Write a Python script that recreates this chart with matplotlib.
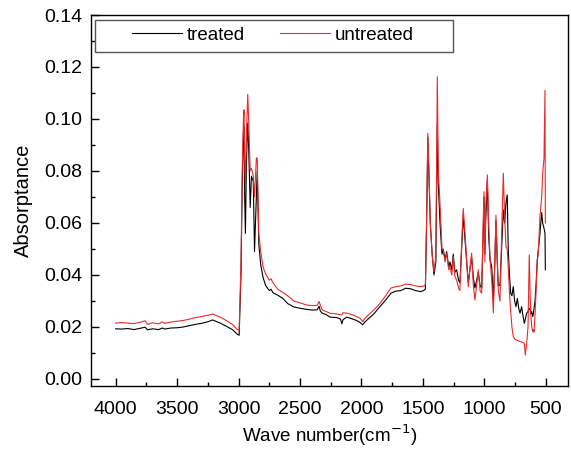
import matplotlib
matplotlib.use("Agg")
import matplotlib.pyplot as plt
from matplotlib.patches import Rectangle
from matplotlib.ticker import MultipleLocator, FormatStrFormatter

plt.rcParams['font.family'] = ['Liberation Sans', 'DejaVu Sans']

# wave number (cm-1)
wavenumber = [
    4000, 3950, 3900, 3850, 3800, 3760, 3740, 3700, 3650, 3620, 3600, 3550,
    3500, 3450, 3400, 3350, 3300, 3250, 3210, 3150, 3100, 3050, 3010, 2995,
    2980, 2970, 2960, 2955, 2950, 2944, 2935, 2925, 2918, 2905, 2895, 2880,
    2870, 2855, 2848, 2835, 2820, 2800, 2780, 2750, 2735, 2720, 2680, 2640,
    2600, 2550, 2500, 2450, 2400, 2360, 2345, 2335, 2320, 2290, 2256, 2200,
    2170, 2160, 2150, 2120, 2080, 2040, 2010, 1990, 1975, 1945, 1900, 1850,
    1800, 1760, 1720, 1680, 1640, 1600, 1560, 1520, 1495, 1480, 1470, 1460,
    1452, 1440, 1425, 1410, 1395, 1383, 1375, 1361, 1345, 1335, 1320, 1307,
    1290, 1280, 1265, 1253, 1240, 1226, 1210, 1199, 1185, 1172, 1160, 1144,
    1131, 1118, 1104, 1090, 1077, 1063, 1050, 1035, 1022, 1010, 1003, 996,
    990, 976, 965, 954, 940, 927, 915, 906, 895, 887, 873, 860,
    846, 835, 824, 814, 806, 796, 786, 776, 765, 754, 743, 732,
    720, 710, 697, 685, 675, 667, 656, 645, 635, 629, 623, 615,
    607, 602, 596, 588, 580, 570, 561, 548, 534, 526, 515, 507,
    504,
]

treated = [
    0.0193, 0.0192, 0.0194, 0.0190, 0.0195, 0.0199, 0.0189, 0.0193, 0.0190, 0.0196, 0.0192, 0.0196,
    0.0197, 0.0200, 0.0205, 0.0210, 0.0214, 0.0220, 0.0227, 0.0215, 0.0203, 0.0190, 0.0172, 0.0168,
    0.0400, 0.0750, 0.0950, 0.0970, 0.0700, 0.0560, 0.0850, 0.0985, 0.0900, 0.0660, 0.0780, 0.0760,
    0.0490, 0.0700, 0.0800, 0.0520, 0.0440, 0.0390, 0.0360, 0.0340, 0.0345, 0.0332, 0.0322, 0.0310,
    0.0290, 0.0277, 0.0272, 0.0268, 0.0265, 0.0266, 0.0280, 0.0262, 0.0253, 0.0248, 0.0238, 0.0236,
    0.0230, 0.0212, 0.0228, 0.0238, 0.0232, 0.0225, 0.0217, 0.0208, 0.0218, 0.0231, 0.0250, 0.0278,
    0.0305, 0.0330, 0.0338, 0.0340, 0.0349, 0.0347, 0.0340, 0.0336, 0.0340, 0.0345, 0.0600, 0.0930,
    0.0800, 0.0600, 0.0480, 0.0400, 0.0450, 0.0980, 0.0750, 0.0600, 0.0480, 0.0500, 0.0460, 0.0490,
    0.0430, 0.0450, 0.0420, 0.0480, 0.0410, 0.0420, 0.0380, 0.0370, 0.0500, 0.0630, 0.0550, 0.0450,
    0.0370, 0.0420, 0.0470, 0.0390, 0.0350, 0.0380, 0.0410, 0.0360, 0.0350, 0.0550, 0.0700, 0.0480,
    0.0600, 0.0760, 0.0550, 0.0460, 0.0430, 0.0304, 0.0450, 0.0610, 0.0450, 0.0360, 0.0360, 0.0500,
    0.0650, 0.0600, 0.0680, 0.0708, 0.0500, 0.0400, 0.0330, 0.0320, 0.0355, 0.0300, 0.0278, 0.0310,
    0.0270, 0.0253, 0.0278, 0.0240, 0.0214, 0.0230, 0.0253, 0.0260, 0.0270, 0.0272, 0.0250, 0.0260,
    0.0240, 0.0250, 0.0272, 0.0300, 0.0360, 0.0450, 0.0500, 0.0560, 0.0640, 0.0600, 0.0580, 0.0560,
    0.0420,
]

untreated = [
    0.0215, 0.0217, 0.0215, 0.0213, 0.0218, 0.0224, 0.0210, 0.0216, 0.0212, 0.0220, 0.0214, 0.0219,
    0.0222, 0.0225, 0.0230, 0.0236, 0.0240, 0.0245, 0.0250, 0.0238, 0.0225, 0.0210, 0.0190, 0.0188,
    0.0450, 0.0800, 0.1000, 0.1035, 0.0850, 0.0750, 0.0950, 0.1095, 0.1000, 0.0800, 0.0810, 0.0780,
    0.0700, 0.0850, 0.0850, 0.0560, 0.0490, 0.0430, 0.0405, 0.0380, 0.0385, 0.0370, 0.0345, 0.0333,
    0.0320, 0.0300, 0.0293, 0.0285, 0.0282, 0.0283, 0.0298, 0.0285, 0.0266, 0.0260, 0.0253, 0.0250,
    0.0247, 0.0246, 0.0255, 0.0253, 0.0248, 0.0240, 0.0233, 0.0220, 0.0232, 0.0246, 0.0265, 0.0290,
    0.0322, 0.0350, 0.0355, 0.0358, 0.0365, 0.0363, 0.0358, 0.0355, 0.0357, 0.0362, 0.0620, 0.0945,
    0.0820, 0.0600, 0.0480, 0.0413, 0.0470, 0.1163, 0.0800, 0.0677, 0.0500, 0.0496, 0.0450, 0.0484,
    0.0420, 0.0432, 0.0400, 0.0470, 0.0395, 0.0380, 0.0350, 0.0340, 0.0520, 0.0656, 0.0580, 0.0458,
    0.0355, 0.0420, 0.0484, 0.0360, 0.0304, 0.0360, 0.0420, 0.0340, 0.0330, 0.0600, 0.0720, 0.0450,
    0.0650, 0.0785, 0.0600, 0.0458, 0.0380, 0.0254, 0.0450, 0.0630, 0.0450, 0.0340, 0.0300, 0.0550,
    0.0791, 0.0620, 0.0509, 0.0500, 0.0432, 0.0330, 0.0260, 0.0200, 0.0163, 0.0155, 0.0150, 0.0148,
    0.0146, 0.0144, 0.0142, 0.0140, 0.0137, 0.0092, 0.0137, 0.0200, 0.0477, 0.0350, 0.0253, 0.0200,
    0.0182, 0.0190, 0.0180, 0.0250, 0.0330, 0.0460, 0.0484, 0.0624, 0.0700, 0.0790, 0.0850, 0.1110,
    0.0600,
]

fig = plt.figure(figsize=(5.71, 4.66), dpi=100)
ax = fig.add_axes([0.1594, 0.1717, 0.8353, 0.7961])

ax.plot(wavenumber, treated, color='black', lw=0.8, label='treated')
ax.plot(wavenumber, untreated, color='#eb2a2a', lw=0.8, label='untreated')

ax.set_xlim(4200, 320)
ax.set_ylim(-0.0027, 0.14)
ax.xaxis.set_major_locator(MultipleLocator(500))
ax.xaxis.set_minor_locator(MultipleLocator(250))
ax.yaxis.set_major_locator(MultipleLocator(0.02))
ax.yaxis.set_minor_locator(MultipleLocator(0.01))
ax.yaxis.set_major_formatter(FormatStrFormatter('%.2f'))
ax.tick_params(which='both', direction='in', top=False, right=False,
               labelsize=14, width=1)
ax.tick_params(which='major', length=6)
ax.tick_params(which='minor', length=3)
ax.tick_params(axis='y', pad=6)
ax.tick_params(axis='x', pad=11)
for s in ax.spines.values():
    s.set_linewidth(1)

ax.set_xlabel('Wave number(cm$^{-1}$)', fontsize=13.5, labelpad=3)
ax.set_ylabel('Absorptance', fontsize=14.5, labelpad=8)

# legend with a wider frame than its content, as in the original
ax.legend(loc='center left', bbox_to_anchor=(0.0853, 0.946), ncol=2,
          frameon=False, borderpad=0, borderaxespad=0, fontsize=13.5,
          handlelength=2.67, handletextpad=0.27, columnspacing=1.87)
ax.add_patch(Rectangle((0.0084, 0.900), 0.75, 0.0865, transform=ax.transAxes,
                       fill=False, edgecolor='#555555', lw=1, zorder=5))

fig.savefig('out.png', dpi=100)
